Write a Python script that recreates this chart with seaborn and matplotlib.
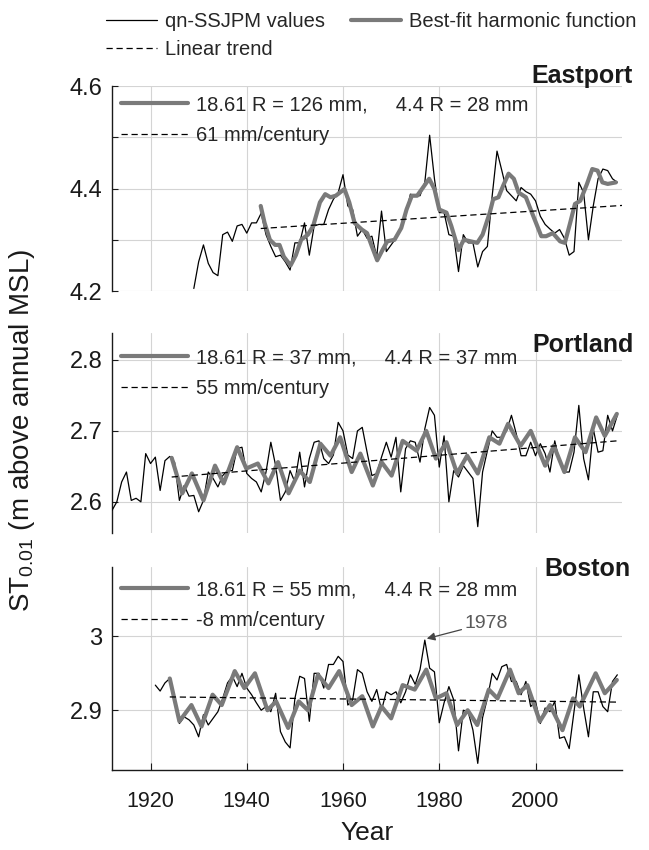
import numpy as np
import matplotlib
matplotlib.use("Agg")
import matplotlib.pyplot as plt
from matplotlib.lines import Line2D
import seaborn as sns

# ---- data ----
eastport_years = np.arange(1929, 2018)
eastport_vals = [4.205, 4.257, 4.290, 4.254, 4.236, 4.230, 4.310, 4.315, 4.297, 4.327,
                 4.330, 4.313, 4.333, 4.333, 4.352, 4.310, 4.287, 4.267, 4.270, 4.257,
                 4.241, 4.294, 4.294, 4.333, 4.270, 4.327, 4.330, 4.330, 4.359, 4.379,
                 4.392, 4.427, 4.366, 4.359, 4.307, 4.320, 4.303, 4.307, 4.267, 4.356,
                 4.277, 4.290, 4.303, 4.320, 4.346, 4.389, 4.386, 4.386, 4.412, 4.504,
                 4.419, 4.353, 4.353, 4.310, 4.307, 4.238, 4.310, 4.294, 4.294, 4.247,
                 4.277, 4.287, 4.386, 4.473, 4.435, 4.396, 4.386, 4.376, 4.402, 4.394,
                 4.389, 4.376, 4.346, 4.330, 4.321, 4.313, 4.320, 4.303, 4.270, 4.277,
                 4.412, 4.392, 4.300, 4.366, 4.419, 4.438, 4.435, 4.419, 4.412]
eastport_fit_years = [1942.9, 1943.7, 1944.8, 1945.9, 1946.8, 1947.7, 1949.1, 1950.2, 1951.3,
                      1952.7, 1953.8, 1955.2, 1956.3, 1957.4, 1958.5, 1960.3, 1961.3, 1962.4,
                      1963.9, 1965.0, 1966.0, 1967.1, 1968.2, 1969.2, 1970.7, 1972.1, 1973.2,
                      1974.3, 1975.4, 1976.4, 1977.9, 1979.0, 1980.0, 1981.5, 1982.5, 1984.0,
                      1985.1, 1986.5, 1987.9, 1989.0, 1990.5, 1991.2, 1992.3, 1993.3, 1994.4,
                      1995.5, 1996.5, 1998.0, 1999.0, 2000.1, 2001.2, 2002.2, 2003.6, 2005.1,
                      2006.1, 2007.2, 2008.2, 2009.3, 2010.7, 2011.8, 2012.9, 2013.9, 2015.0,
                      2016.7]
eastport_fit_vals = [4.366, 4.333, 4.300, 4.290, 4.290, 4.267, 4.250, 4.270, 4.300,
                     4.310, 4.327, 4.373, 4.389, 4.383, 4.386, 4.399, 4.373, 4.333,
                     4.320, 4.313, 4.287, 4.260, 4.280, 4.297, 4.300, 4.323, 4.359,
                     4.386, 4.386, 4.399, 4.419, 4.399, 4.359, 4.353, 4.327, 4.280,
                     4.300, 4.297, 4.294, 4.310, 4.353, 4.379, 4.383, 4.406, 4.429,
                     4.419, 4.392, 4.383, 4.359, 4.333, 4.307, 4.307, 4.313, 4.297,
                     4.294, 4.333, 4.370, 4.376, 4.409, 4.438, 4.435, 4.412, 4.409,
                     4.412]
eastport_trend_years = [1942.9, 2018.0]
eastport_trend_vals = [4.322, 4.367]

portland_years = np.arange(1912, 2018)
portland_vals = [2.588, 2.600, 2.628, 2.642, 2.602, 2.605, 2.600, 2.668, 2.654, 2.663,
                 2.616, 2.658, 2.664, 2.656, 2.602, 2.623, 2.608, 2.609, 2.586, 2.602,
                 2.642, 2.633, 2.621, 2.637, 2.644, 2.644, 2.675, 2.677, 2.640, 2.633,
                 2.628, 2.614, 2.642, 2.684, 2.651, 2.602, 2.614, 2.644, 2.628, 2.670,
                 2.621, 2.661, 2.684, 2.686, 2.661, 2.654, 2.666, 2.712, 2.700, 2.666,
                 2.661, 2.700, 2.705, 2.670, 2.637, 2.640, 2.663, 2.684, 2.663, 2.691,
                 2.614, 2.675, 2.686, 2.684, 2.656, 2.703, 2.733, 2.722, 2.649, 2.693,
                 2.600, 2.644, 2.635, 2.651, 2.642, 2.633, 2.565, 2.642, 2.672, 2.700,
                 2.691, 2.691, 2.700, 2.722, 2.696, 2.665, 2.665, 2.684, 2.665, 2.682,
                 2.668, 2.642, 2.686, 2.656, 2.642, 2.642, 2.670, 2.736, 2.661, 2.631,
                 2.703, 2.670, 2.672, 2.722, 2.700, 2.722]
portland_fit_years = [1924.4, 1926.6, 1928.6, 1931.0, 1933.4, 1935.2, 1938.0, 1939.9, 1942.3,
                      1944.5, 1946.5, 1948.7, 1951.0, 1953.1, 1955.3, 1957.4, 1959.4, 1961.8,
                      1963.6, 1966.2, 1968.0, 1970.1, 1972.4, 1975.3, 1977.3, 1979.3, 1981.5,
                      1983.7, 1985.8, 1988.0, 1990.4, 1992.5, 1994.3, 1996.9, 1999.0, 2002.0,
                      2003.8, 2006.0, 2008.2, 2010.4, 2012.6, 2014.4, 2016.9]
portland_fit_vals = [2.662, 2.612, 2.640, 2.602, 2.651, 2.626, 2.677, 2.647, 2.654,
                     2.626, 2.656, 2.612, 2.644, 2.628, 2.682, 2.665, 2.691, 2.642,
                     2.668, 2.623, 2.656, 2.637, 2.686, 2.672, 2.700, 2.661, 2.684,
                     2.640, 2.665, 2.640, 2.691, 2.682, 2.710, 2.679, 2.700, 2.651,
                     2.679, 2.642, 2.691, 2.670, 2.719, 2.693, 2.724]
portland_trend_years = [1924.4, 2017.0]
portland_trend_vals = [2.635, 2.686]

boston_years = np.arange(1921, 2018)
boston_vals = [2.934, 2.926, 2.937, 2.943, 2.910, 2.882, 2.891, 2.887, 2.880, 2.864,
               2.894, 2.880, 2.889, 2.898, 2.916, 2.937, 2.946, 2.932, 2.950, 2.930,
               2.921, 2.910, 2.900, 2.905, 2.898, 2.923, 2.871, 2.857, 2.849, 2.916,
               2.946, 2.943, 2.885, 2.950, 2.950, 2.930, 2.962, 2.962, 2.973, 2.966,
               2.907, 2.914, 2.955, 2.950, 2.925, 2.912, 2.928, 2.900, 2.925, 2.921,
               2.925, 2.910, 2.925, 2.948, 2.935, 2.955, 2.995, 2.957, 2.952, 2.883,
               2.910, 2.932, 2.914, 2.845, 2.900, 2.898, 2.873, 2.828, 2.890, 2.916,
               2.950, 2.941, 2.959, 2.962, 2.939, 2.939, 2.921, 2.939, 2.905, 2.912,
               2.882, 2.903, 2.898, 2.912, 2.862, 2.864, 2.848, 2.898, 2.948, 2.903,
               2.864, 2.925, 2.925, 2.905, 2.898, 2.939, 2.948]
boston_fit_years = [1924.0, 1926.0, 1928.5, 1930.6, 1932.9, 1934.8, 1937.5, 1939.5, 1941.7,
                    1944.3, 1946.1, 1948.6, 1950.8, 1952.7, 1954.8, 1957.0, 1959.2, 1961.8,
                    1964.0, 1966.2, 1968.0, 1970.0, 1972.4, 1974.9, 1977.3, 1979.3, 1981.5,
                    1983.7, 1985.9, 1987.9, 1990.3, 1992.1, 1994.7, 1996.5, 1998.3, 2000.9,
                    2003.0, 2005.6, 2007.8, 2009.2, 2012.5, 2014.4, 2016.9]
boston_fit_vals = [2.943, 2.885, 2.907, 2.878, 2.921, 2.907, 2.953, 2.930, 2.950,
                   2.900, 2.912, 2.876, 2.912, 2.900, 2.948, 2.930, 2.953, 2.907,
                   2.919, 2.878, 2.905, 2.889, 2.934, 2.928, 2.955, 2.916, 2.923,
                   2.880, 2.900, 2.880, 2.928, 2.916, 2.955, 2.923, 2.934, 2.885,
                   2.907, 2.873, 2.916, 2.905, 2.950, 2.923, 2.941]
boston_trend_years = [1924.0, 2017.0]
boston_trend_vals = [2.918, 2.911]

stations = ["Eastport", "Portland", "Boston"]
fit_labels = ["18.61 R = 126 mm,     4.4 R = 28 mm",
              "18.61 R = 37 mm,     4.4 R = 37 mm",
              "18.61 R = 55 mm,     4.4 R = 28 mm"]
trend_labels = ["61 mm/century", "55 mm/century", "-8 mm/century"]

# ---- style ----
sns.set_style("white")
plt.rcParams['font.family'] = ['Liberation Sans', 'DejaVu Sans']
plt.rcParams['mathtext.fontset'] = 'custom'
plt.rcParams['mathtext.rm'] = 'Liberation Sans'
plt.rcParams['mathtext.it'] = 'Liberation Sans:italic'

GRAY = '#7a7a7a'
GRID = '#d4d4d4'
TXT = '#1a1a1a'

fig = plt.figure(figsize=(6.49, 8.5), dpi=100)
axes = [fig.add_axes([0.1726, 0.6576, 0.786, 0.2412]),
        fig.add_axes([0.1726, 0.3729, 0.786, 0.2353]),
        fig.add_axes([0.1726, 0.0941, 0.786, 0.2388])]

series = [
    (eastport_years, eastport_vals, eastport_fit_years, eastport_fit_vals,
     eastport_trend_years, eastport_trend_vals),
    (portland_years, portland_vals, portland_fit_years, portland_fit_vals,
     portland_trend_years, portland_trend_vals),
    (boston_years, boston_vals, boston_fit_years, boston_fit_vals,
     boston_trend_years, boston_trend_vals),
]
ylims = [(4.2, 4.6), (2.556, 2.838), (2.819, 3.094)]
yticks = [[4.2, 4.3, 4.4, 4.5, 4.6], [2.6, 2.7, 2.8], [2.9, 3.0]]
yticklabels = [["4.2", "", "4.4", "", "4.6"], ["2.6", "2.7", "2.8"], ["2.9", "3"]]
legend_top = [1.0, 0.97, 0.98]

for i, ax in enumerate(axes):
    yrs, vals, fy, fv, ty, tv = series[i]
    sns.lineplot(x=yrs, y=vals, ax=ax, color='black', lw=0.9,
                 estimator=None, sort=False, zorder=3)
    sns.lineplot(x=fy, y=fv, ax=ax, color=GRAY, lw=3.0,
                 estimator=None, sort=False, zorder=4)
    sns.lineplot(x=ty, y=tv, ax=ax, color='black', lw=0.9, linestyle=(0, (5, 3)),
                 estimator=None, sort=False, zorder=5)

    ax.set_xlim(1912, 2018)
    ax.set_ylim(*ylims[i])
    ax.set_xticks([1920, 1940, 1960, 1980, 2000])
    ax.set_yticks(yticks[i])
    ax.set_yticklabels(yticklabels[i])
    ax.grid(True, color=GRID, lw=0.8)
    ax.set_xlabel("")
    ax.set_ylabel("")
    for s in ["top", "right"]:
        ax.spines[s].set_visible(False)
    ax.spines["left"].set_color(TXT)
    ax.spines["left"].set_linewidth(1.0)
    ax.tick_params(axis='y', direction='in', length=4, width=0.8,
                   labelsize=17, colors=TXT, pad=7, left=True)
    if i < 2:
        ax.spines["bottom"].set_visible(False)
        ax.tick_params(axis='x', bottom=False, labelbottom=False)
    else:
        ax.spines["bottom"].set_color(TXT)
        ax.spines["bottom"].set_linewidth(1.0)
        ax.tick_params(axis='x', direction='in', length=5, width=0.8,
                       labelsize=15.5, colors=TXT, pad=15, bottom=True)

    handles = [Line2D([], [], color=GRAY, lw=3.0),
               Line2D([], [], color='black', lw=0.9, linestyle=(0, (5, 3)))]
    ax.legend(handles, [fit_labels[i], trend_labels[i]], loc='upper left',
              bbox_to_anchor=(0.0, legend_top[i]), frameon=False,
              fontsize=14.5, handlelength=3.3, handletextpad=0.4,
              labelspacing=0.6, borderaxespad=0.2, borderpad=0.25)

# station names
fig.text(0.975, 1 - 76 / 850, "Eastport", ha='right', va='center',
         fontsize=18, fontweight='bold', color=TXT)
fig.text(0.976, 1 - 345 / 850, "Portland", ha='right', va='center',
         fontsize=18, fontweight='bold', color=TXT)
fig.text(0.972, 1 - 569 / 850, "Boston", ha='right', va='center',
         fontsize=18, fontweight='bold', color=TXT)

# 1978 annotation
axes[2].annotate("1978", xy=(1977.4, 2.997), xytext=(1985.3, 3.018),
                 fontsize=14, color='#5a5a5a', va='center', ha='left',
                 arrowprops=dict(arrowstyle='-|>', color='#444444', lw=0.9,
                                 mutation_scale=12, shrinkA=0, shrinkB=0))

# axis labels
fig.text(0.034, 0.494, r"ST$_{\mathrm{0.01}}$ (m above annual MSL)", rotation=90,
         ha='center', va='center', fontsize=20, color=TXT)
fig.text(0.565, 1 - 833 / 850, "Year", ha='center', va='center',
         fontsize=19, color=TXT)

# top legend
top_handles = [Line2D([], [], color='black', lw=0.9),
               Line2D([], [], color='black', lw=0.9, linestyle=(0, (5, 3))),
               Line2D([], [], color=GRAY, lw=3.0)]
top_labels = ["qn-SSJPM values", "Linear trend", "Best-fit harmonic function"]
fig.legend(top_handles, top_labels, ncol=2, loc='upper left',
           bbox_to_anchor=(0.145, 1.0), frameon=False, fontsize=14.5,
           handlelength=2.5, handletextpad=0.4, columnspacing=1.3,
           labelspacing=0.45, borderpad=0.1)

fig.savefig("out.png", dpi=100)
